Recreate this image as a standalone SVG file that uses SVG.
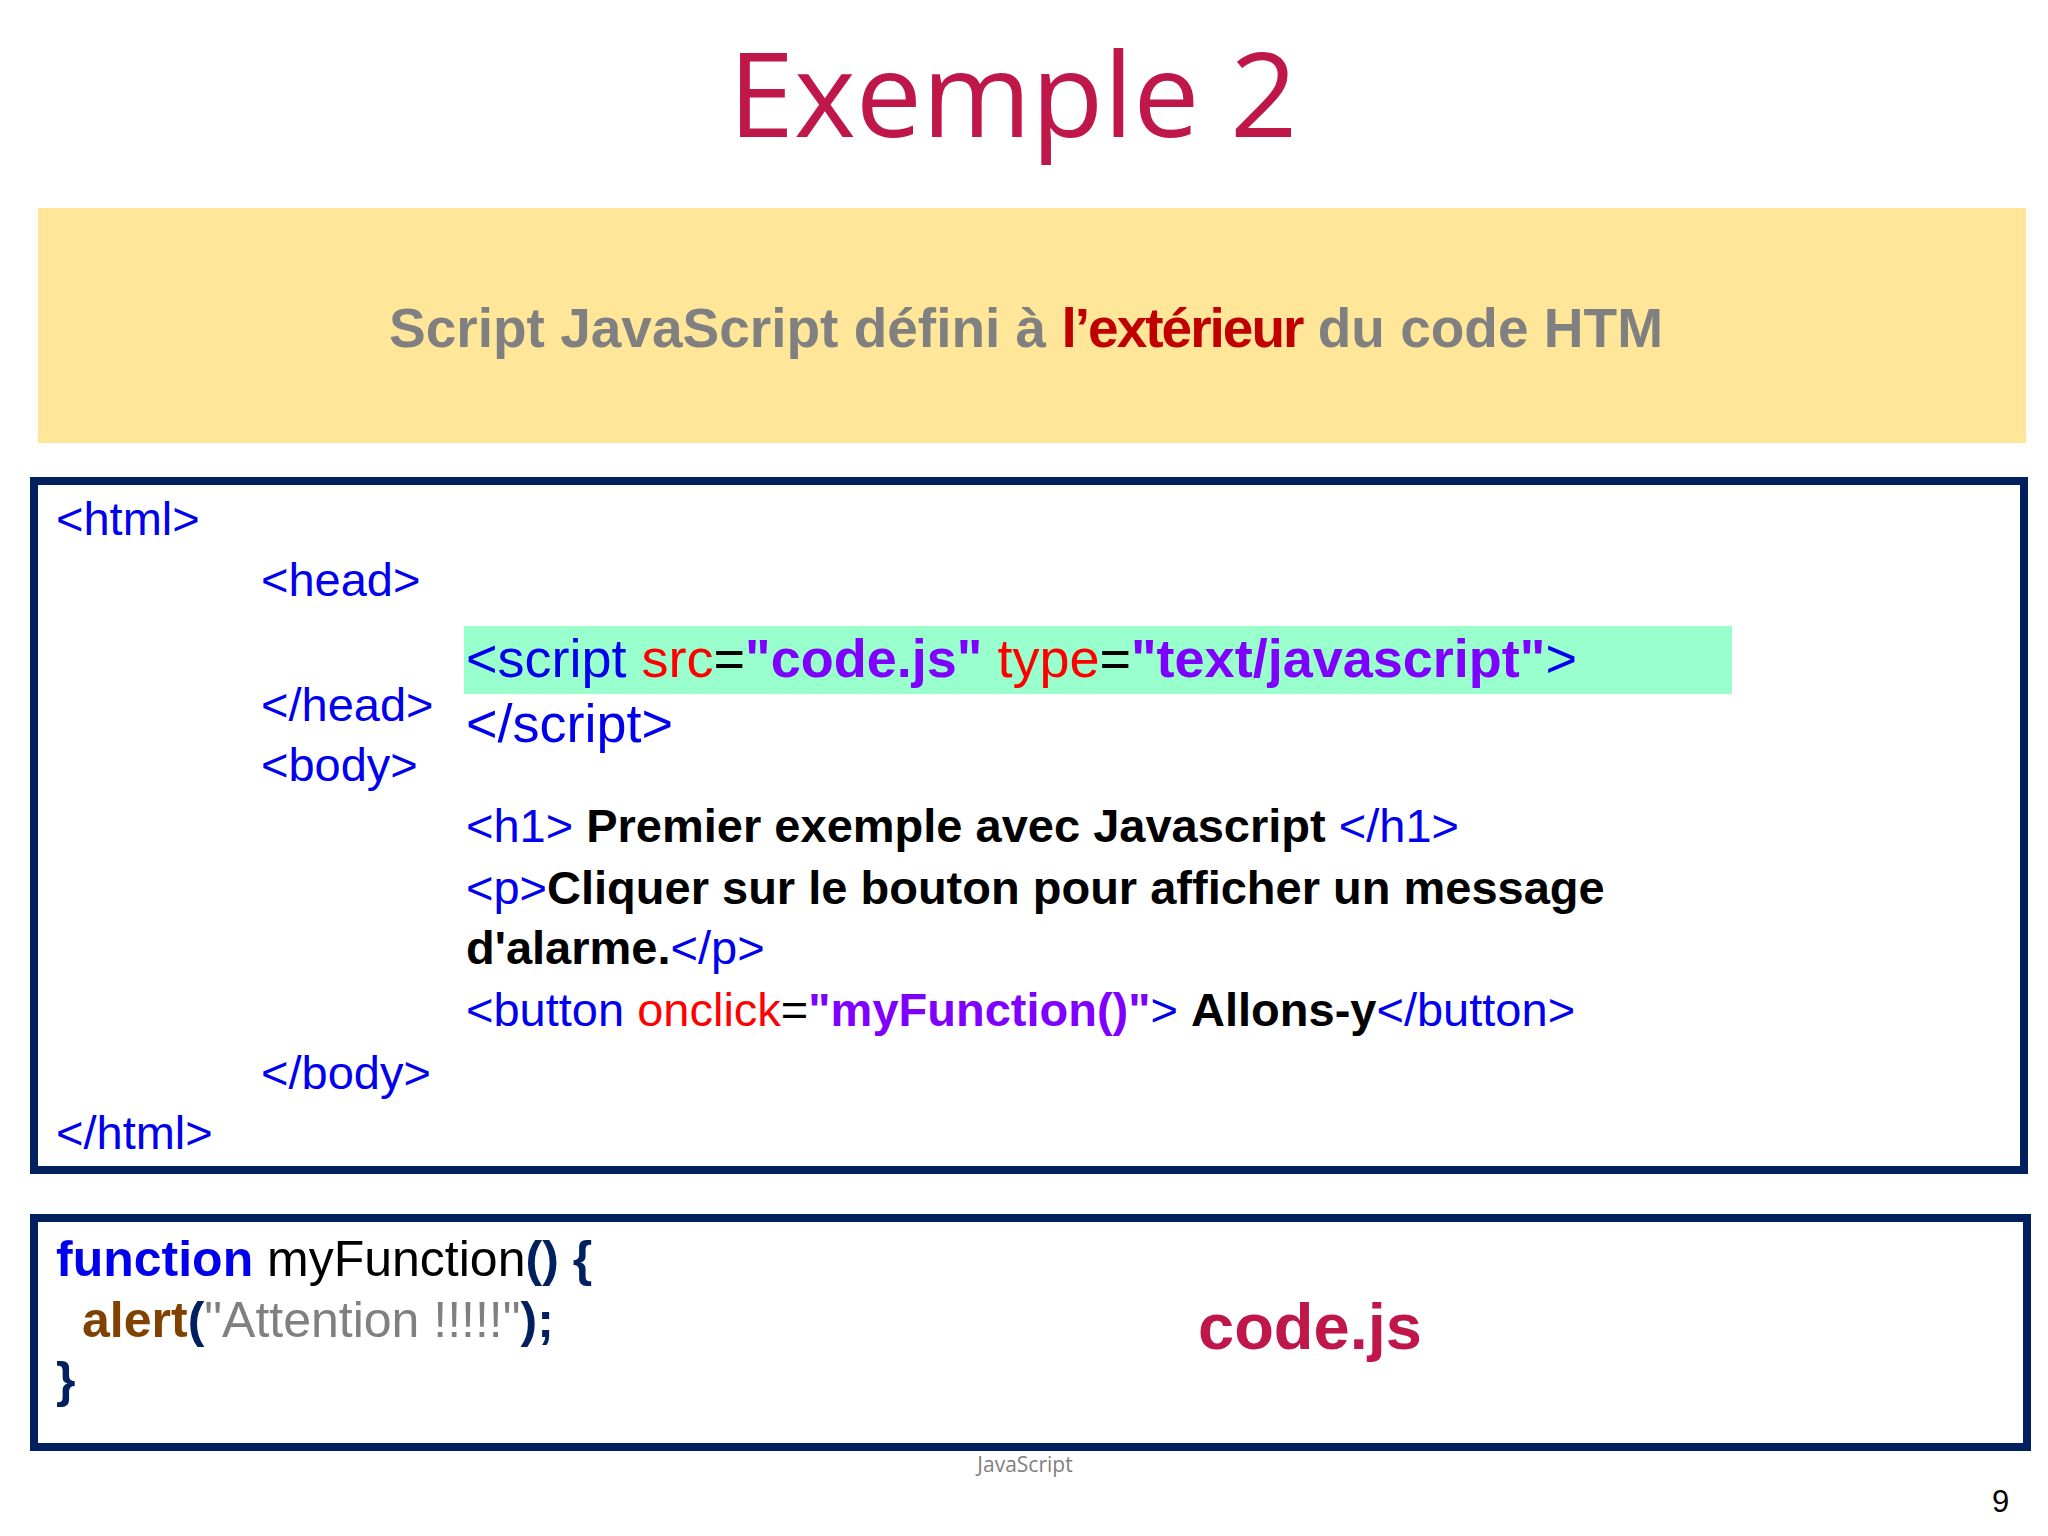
<svg xmlns="http://www.w3.org/2000/svg" width="2048" height="1536" viewBox="0 0 2048 1536">
<style>
text{font-family:"Liberation Sans",Arial,sans-serif}
.t{fill:#0000EE}.a{fill:#FF0000}.v{fill:#7F00FF;font-weight:bold}.k{fill:#000;font-weight:bold}
.c{font-size:47px}.n{fill:#002060}
</style>
<rect width="2048" height="1536" fill="#fff"/>
<g id="title"><text x="1013" y="137" text-anchor="middle" font-size="118" fill="#C0174A" style="font-family:'Open Sans','Noto Sans',sans-serif">Exemple 2</text></g>
<g id="banner"><rect x="38" y="208" width="1988" height="235" fill="#FFE699"/>
<text x="1026" y="347" text-anchor="middle" font-size="55" font-weight="bold" fill="#808080">Script JavaScript défini à <tspan fill="#C00000" letter-spacing="-2">l’extérieur</tspan> du code HTM</text></g>
<g id="html-box"><rect x="34" y="481" width="1990" height="689" fill="#fff" stroke="#002060" stroke-width="8"/>
<rect x="464" y="626" width="1268" height="68" fill="#99FFCC"/>
<text class="c t" x="56" y="535">&lt;html&gt;</text>
<text class="c t" x="261" y="596">&lt;head&gt;</text>
<text x="466" y="677" font-size="54"><tspan class="t">&lt;script </tspan><tspan class="a">src</tspan><tspan>=</tspan><tspan class="v">"code.js"</tspan><tspan class="a"> type</tspan><tspan>=</tspan><tspan class="v">"text/javascript"</tspan><tspan class="t">&gt;</tspan></text>
<text class="c t" x="261" y="721">&lt;/head&gt;</text>
<text class="t" x="466" y="742" font-size="54">&lt;/script&gt;</text>
<text class="c t" x="261" y="781">&lt;body&gt;</text>
<text class="c" x="466" y="842"><tspan class="t">&lt;h1&gt; </tspan><tspan class="k">Premier exemple avec Javascript </tspan><tspan class="t">&lt;/h1&gt;</tspan></text>
<text class="c" x="466" y="904"><tspan class="t">&lt;p&gt;</tspan><tspan class="k">Cliquer sur le bouton pour afficher un message</tspan></text>
<text class="c" x="466" y="964"><tspan class="k">d'alarme.</tspan><tspan class="t">&lt;/p&gt;</tspan></text>
<text class="c" x="466" y="1026"><tspan class="t">&lt;button </tspan><tspan class="a">onclick</tspan><tspan>=</tspan><tspan class="v">"myFunction()"</tspan><tspan class="t">&gt; </tspan><tspan class="k">Allons-y</tspan><tspan class="t">&lt;/button&gt;</tspan></text>
<text class="c t" x="261" y="1089">&lt;/body&gt;</text>
<text class="c t" x="56" y="1149">&lt;/html&gt;</text></g>
<g id="js-box"><rect x="34" y="1218" width="1993" height="229" fill="#fff" stroke="#002060" stroke-width="8"/>
<text x="56" y="1276" font-size="50"><tspan fill="#0000EE" font-weight="bold">function</tspan><tspan> myFunction</tspan><tspan class="n" font-weight="bold">() {</tspan></text>
<text x="82" y="1337" font-size="50"><tspan fill="#7F4200" font-weight="bold">alert</tspan><tspan class="n" font-weight="bold">(</tspan><tspan fill="#808080">"Attention !!!!!"</tspan><tspan class="n" font-weight="bold">);</tspan></text>
<text x="56" y="1397" font-size="50" class="n" font-weight="bold">}</text>
<text x="1310" y="1349" text-anchor="middle" font-size="65" font-weight="bold" fill="#C0174A">code.js</text></g>
<g id="footer"><text x="1025" y="1472" text-anchor="middle" font-size="21" fill="#808080" style="font-family:'Open Sans',sans-serif">JavaScript</text>
<text x="1992" y="1512" font-size="31" fill="#000">9</text></g>
</svg>
